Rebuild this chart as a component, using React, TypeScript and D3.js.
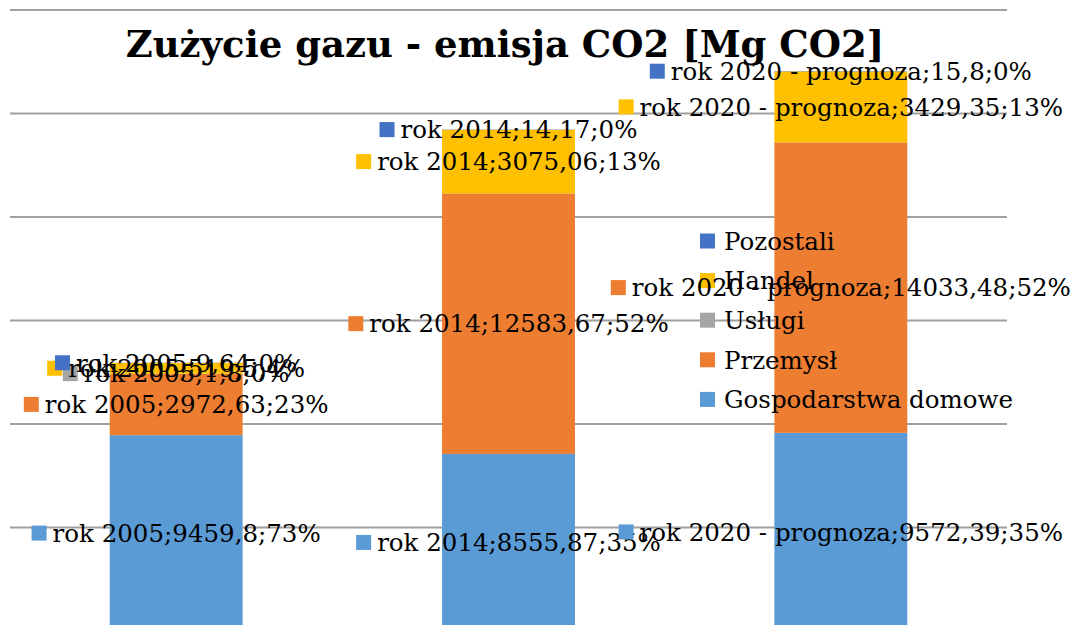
import React, { useRef, useEffect } from 'react';
import * as d3 from 'd3';

// categories on the x axis
const categories = ['rok 2005', 'rok 2014', 'rok 2020 - prognoza'];

// series, bottom to top of the stack
const seriesNames = ['Gospodarstwa domowe', 'Przemysł', 'Usługi', 'Handel', 'Pozostali'];
const gospodarstwa = [9459.8, 8555.87, 9572.39];
const przemysl = [2972.63, 12583.67, 14033.48];
const uslugi = [1.8, 0, 0];
const handel = [519.5, 3075.06, 3429.35];
const pozostali = [9.64, 14.17, 15.8];

const yTicks = [0, 5000, 10000, 15000, 20000, 25000, 30000];
const colors = ['#5B9BD5', '#ED7D31', '#A5A5A5', '#FFC000', '#4472C4'];

const title = 'Zużycie gazu - emisja CO2 [Mg CO2]';

const W = 1077;
const H = 625;
const FONT = '"DejaVu Serif", Georgia, serif';
const LABEL_SIZE = 24.5;

const fmt = (v: number) => String(v).replace('.', ',');

const App = () => {
  const svgRef = useRef<SVGSVGElement>(null);

  useEffect(() => {
    const svg = d3.select(svgRef.current);
    svg.selectAll('*').remove();

    const values = [gospodarstwa, przemysl, uslugi, handel, pozostali];
    const table = categories.map((c, i) => {
      const row: any = { cat: c };
      seriesNames.forEach((s, k) => (row[s] = values[k][i]));
      return row;
    });
    const totals = categories.map((_, i) => d3.sum(values, (v) => v[i]));

    const stacked = d3.stack<any>().keys(seriesNames)(table);

    const x = d3.scaleBand().domain(categories).range([10, 1007]).paddingInner(0.6).paddingOuter(0.3);
    const y = d3.scaleLinear().domain([0, 30000]).range([631, 10]);

    // gridlines
    svg
      .append('g')
      .selectAll('line')
      .data(yTicks)
      .join('line')
      .attr('x1', 10)
      .attr('x2', 1007)
      .attr('y1', (d) => y(d))
      .attr('y2', (d) => y(d))
      .attr('stroke', '#A0A0A0')
      .attr('stroke-width', 2);

    // bars
    stacked.forEach((layer, k) => {
      svg
        .append('g')
        .selectAll('rect')
        .data(layer)
        .join('rect')
        .attr('x', (d: any) => x(d.data.cat)!)
        .attr('width', x.bandwidth())
        .attr('y', (d) => y(d[1]))
        .attr('height', (d) => Math.max(0, y(d[0]) - y(d[1])))
        .attr('fill', colors[k]);
    });

    // legend
    const legend = svg.append('g').attr('font-family', FONT).attr('font-size', LABEL_SIZE);
    seriesNames
      .slice()
      .reverse()
      .forEach((s, i) => {
        const cy = 241 + i * 39.6;
        const k = seriesNames.indexOf(s);
        legend.append('rect').attr('x', 700).attr('y', cy - 7.5).attr('width', 15).attr('height', 15).attr('fill', colors[k]);
        legend.append('text').attr('x', 724).attr('y', cy).attr('dy', '0.36em').attr('fill', '#000').text(s);
      });

    // data labels: category;value;percent with legend key
    const labels = svg.append('g').attr('font-family', FONT).attr('font-size', LABEL_SIZE);
    stacked.forEach((layer, k) => {
      layer.forEach((d: any, i) => {
        const v = values[k][i];
        if (!v) return;
        const cx = x(d.data.cat)! + x.bandwidth() / 2;
        const cy = (y(d[0]) + y(d[1])) / 2;
        const pct = Math.round((v / totals[i]) * 100);
        const g = labels.append('g');
        const t = g
          .append('text')
          .attr('y', cy)
          .attr('dy', '0.36em')
          .attr('fill', '#000')
          .text(`${d.data.cat};${fmt(v)};${pct}%`);
        const tw = (t.node() as SVGTextElement).getComputedTextLength();
        const total = 15 + 6 + tw;
        const left = cx - total / 2;
        t.attr('x', left + 21);
        g.insert('rect', 'text').attr('x', left).attr('y', cy - 7.5).attr('width', 15).attr('height', 15).attr('fill', colors[k]);
      });
    });

    // title
    svg
      .append('text')
      .attr('x', 505)
      .attr('y', 57)
      .attr('text-anchor', 'middle')
      .attr('font-family', FONT)
      .attr('font-weight', 'bold')
      .attr('font-size', 37)
      .attr('fill', '#000')
      .text(title);
  }, []);

  return (
    <svg
      ref={svgRef}
      width={W}
      height={H}
      style={{ position: 'absolute', left: 0, top: 0, background: '#fff' }}
    />
  );
};

export default App;
